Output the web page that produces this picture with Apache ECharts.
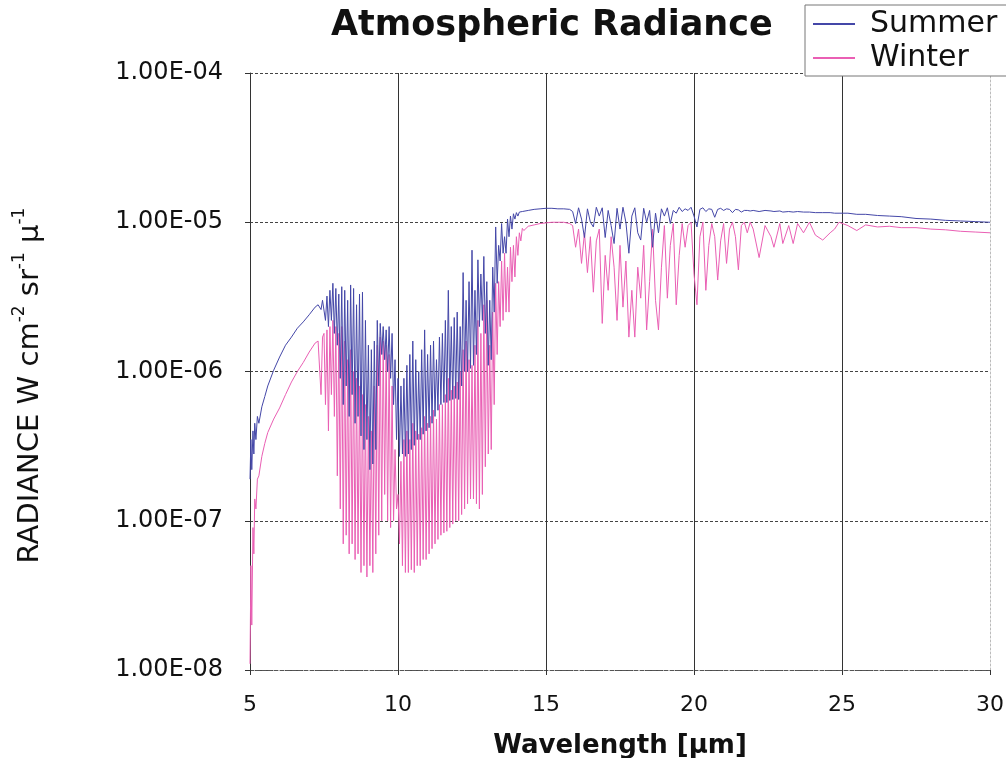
<!DOCTYPE html>
<html>
<head>
<meta charset="utf-8">
<title>Atmospheric Radiance</title>
<script src="https://cdn.jsdelivr.net/npm/echarts@6/dist/echarts.min.js"></script>
<style>
  html, body { margin: 0; padding: 0; background: #fff; }
  #myChart { width: 1006px; height: 758px; }
</style>
</head>
<body>
<div id="myChart"></div>
<script>
// radiance values are in units of 1e-6 W cm-2 sr-1 µ-1
const UNIT = 1e-6

const wavelength = [
  5.0, 5.03, 5.06, 5.1, 5.13, 5.16, 5.2, 5.25, 5.3, 5.4, 5.5, 5.6, 5.8, 6.0, 6.2, 6.4, 6.6, 6.8, 7.0, 7.2, 7.3, 7.4, 7.45,
  7.5, 7.55, 7.6, 7.65, 7.7, 7.75, 7.8, 7.85, 7.9, 7.95,
  8.0, 8.05, 8.1, 8.15, 8.2, 8.25, 8.3, 8.35, 8.4, 8.45, 8.5, 8.55, 8.6, 8.65, 8.7, 8.75, 8.8, 8.85, 8.9, 8.95,
  9.0, 9.05, 9.1, 9.15, 9.2, 9.25, 9.3, 9.35, 9.4, 9.45, 9.5, 9.55, 9.6, 9.65, 9.7, 9.75, 9.8, 9.85, 9.9, 9.95,
  10.0, 10.05, 10.1, 10.15, 10.2, 10.25, 10.3, 10.35, 10.4, 10.45, 10.5, 10.55, 10.6, 10.65, 10.7, 10.75, 10.8, 10.85, 10.9, 10.95,
  11.0, 11.05, 11.1, 11.15, 11.2, 11.25, 11.3, 11.35, 11.4, 11.45, 11.5, 11.55, 11.6, 11.65, 11.7, 11.75, 11.8, 11.85, 11.9, 11.95,
  12.0, 12.05, 12.1, 12.15, 12.2, 12.25, 12.3, 12.35, 12.4, 12.45, 12.5, 12.55, 12.6, 12.65, 12.7, 12.75, 12.8, 12.85, 12.9, 12.95,
  13.0, 13.05, 13.1, 13.15, 13.2, 13.25, 13.3, 13.35, 13.4, 13.45, 13.5, 13.55, 13.6, 13.65, 13.7, 13.75, 13.8, 13.85, 13.9, 13.95,
  14.0, 14.05, 14.1, 14.15, 14.2, 14.25,
  14.4, 14.6, 14.8, 15.0, 15.2, 15.4, 15.6, 15.8, 15.9,
  16.0, 16.1, 16.2, 16.3, 16.4, 16.5, 16.6, 16.7, 16.8, 16.9,
  17.0, 17.1, 17.2, 17.3, 17.4, 17.5, 17.6, 17.7, 17.8, 17.9,
  18.0, 18.1, 18.2, 18.3, 18.4, 18.5, 18.6, 18.7, 18.8, 18.9,
  19.0, 19.1, 19.2, 19.3, 19.4, 19.5, 19.6, 19.7, 19.8, 19.9,
  20.0, 20.1, 20.2, 20.3, 20.4, 20.5, 20.6, 20.7, 20.8, 20.9,
  21.0, 21.1, 21.2, 21.3, 21.4, 21.5, 21.6, 21.7, 21.8, 21.9,
  22.0, 22.2, 22.4, 22.6, 22.7, 22.9, 23.0, 23.2, 23.35, 23.5, 23.7, 23.9, 24.1, 24.35, 24.6, 24.75, 24.9,
  25.2, 25.5, 25.8, 26.2, 26.6, 27, 27.5, 28, 28.5, 29, 29.5, 30
]

const summer = [
  0.19, 0.35, 0.22, 0.4, 0.28, 0.45, 0.35, 0.5, 0.45, 0.58, 0.68, 0.8, 1.02, 1.25, 1.5, 1.7, 1.95, 2.15, 2.4, 2.7, 2.8, 2.6, 3.0,
  3.0, 2.2, 3.2, 2.0, 3.5, 2.2, 3.9, 1.8, 3.6, 1.5,
  3.3, 0.9, 3.7, 0.6, 3.5, 0.8, 3.0, 0.5, 3.8, 0.7, 3.6, 0.45, 2.8, 0.5, 3.3, 0.37, 3.4, 0.3, 2.2, 0.35,
  1.5, 0.22, 1.4, 0.24, 1.6, 0.3, 2.2, 0.8, 2.1, 1.3, 2.0, 1.2, 1.9, 1.0, 2.0, 0.9, 1.8, 0.6, 1.2, 0.35,
  0.9, 0.27, 0.8, 0.28, 0.9, 0.27, 1.1, 0.28, 1.3, 0.3, 1.6, 0.32, 1.2, 0.35, 1.0, 0.35, 1.4, 0.38, 1.9, 0.4,
  1.3, 0.42, 1.5, 0.45, 1.6, 0.5, 1.2, 0.55, 1.7, 0.6, 1.8, 0.62, 2.2, 0.62, 3.5, 0.64, 2.0, 0.65, 2.3, 0.66,
  2.5, 0.65, 2.0, 0.8, 4.6, 1.0, 3.0, 1.0, 4.0, 1.05, 6.5, 1.1, 3.5, 1.3, 5.6, 2.0, 4.5, 2.2, 5.9, 1.8,
  4.0, 1.1, 3.0, 1.2, 5.0, 2.5, 9.3, 3.9, 7.0, 5.5, 9.8, 6.2, 8.0, 6.2, 10.5, 8.0, 11.0, 9.0, 11.4, 10.5,
  11.6, 11.0, 11.7, 11.5, 11.8, 11.8,
  12.0, 12.2, 12.3, 12.4, 12.4, 12.3, 12.3, 12.2, 11.8,
  9.8, 12.5, 10.5, 7.9, 12.3, 10.0, 9.3, 12.6, 11.0, 12.5,
  7.9, 12.0, 9.5, 7.2, 12.4, 9.0, 12.6, 10.0, 6.2, 11.0,
  12.5, 8.5, 7.6, 12.4, 10.0, 12.0, 6.8, 11.5, 8.5, 12.3,
  11.0, 12.5, 9.8, 12.0, 11.5, 12.6, 11.8, 12.3, 12.0, 12.6,
  11.0, 9.3, 12.2, 12.5, 11.8, 12.3, 12.2, 10.8, 12.2, 12.4,
  12.0, 12.3, 12.2, 11.6, 12.2, 12.1, 11.7, 12.0, 12.0, 11.9,
  12.0, 11.8, 12.0, 11.9, 11.8, 11.9, 11.7, 11.8, 11.7, 11.8, 11.7, 11.7, 11.6, 11.6, 11.6, 11.5, 11.5,
  11.5, 11.3, 11.3, 11.1, 11.0, 10.9, 10.6, 10.5, 10.3, 10.2, 10.1, 10.0
]

const winter = [
  0.011, 0.05, 0.02, 0.09, 0.06, 0.14, 0.12, 0.19, 0.2, 0.27, 0.33, 0.39, 0.48, 0.57, 0.7, 0.85, 1.0, 1.15, 1.35, 1.55, 1.6, 0.7, 1.7,
  1.8, 0.6, 1.9, 0.4, 2.0, 0.7, 2.2, 0.5, 2.0, 0.2,
  1.8, 0.12, 2.0, 0.07, 1.6, 0.08, 1.2, 0.06, 1.4, 0.07, 1.0, 0.055, 0.9, 0.06, 0.8, 0.045, 0.7, 0.05, 0.6, 0.042,
  0.5, 0.05, 0.4, 0.045, 0.8, 0.06, 1.5, 0.08, 1.7, 0.1, 1.6, 0.15, 1.5, 0.1, 1.3, 0.09, 0.8, 0.1, 0.3, 0.12,
  0.15, 0.07, 0.25, 0.05, 0.35, 0.045, 0.4, 0.045, 0.35, 0.047, 0.45, 0.045, 0.4, 0.05, 0.38, 0.05, 0.42, 0.055, 0.5, 0.055,
  0.45, 0.06, 0.5, 0.065, 0.55, 0.07, 0.48, 0.075, 0.6, 0.08, 0.6, 0.083, 0.7, 0.085, 0.9, 0.09, 0.75, 0.095, 0.8, 0.1,
  0.85, 0.1, 1.0, 0.11, 1.4, 0.12, 1.6, 0.13, 1.2, 0.14, 1.1, 0.14, 1.5, 0.13, 2.2, 0.12, 1.8, 0.15, 2.8, 0.23,
  3.0, 0.28, 1.5, 0.3, 2.5, 0.6, 3.9, 1.3, 4.0, 2.0, 5.5, 2.2, 6.2, 2.5, 5.0, 2.5, 6.8, 4.0, 7.0, 4.3,
  8.0, 6.0, 8.5, 7.5, 9.1, 8.8,
  9.4, 9.6, 9.8, 9.9, 10.0, 10.0, 10.0, 9.8, 9.5,
  6.8, 9.0, 5.3, 8.5, 4.6, 8.0, 3.4, 7.5, 9.0, 2.1,
  6.0, 3.5, 8.0, 5.0, 2.2, 7.0, 2.7, 5.5, 1.7, 3.5,
  1.7, 5.0, 3.1, 7.0, 1.9, 4.0, 9.0, 3.0, 1.9, 5.0,
  9.5, 3.1, 7.0, 9.8, 2.8, 6.0, 9.8, 6.8, 9.5, 10.0,
  4.5, 2.8, 8.0, 10.0, 3.5, 7.0, 9.8, 8.0, 4.1, 7.5,
  9.8, 5.3, 9.0, 10.0, 8.0, 4.8, 9.5, 10.0, 8.5, 10.0,
  9.0, 5.8, 9.5, 8.0, 6.8, 9.8, 7.2, 9.5, 7.2, 9.8, 8.5, 10.0, 8.2, 7.6, 8.5, 9.0, 10.0,
  9.5, 8.8, 9.6, 9.3, 9.4, 9.2, 9.2, 9.0, 8.9, 8.7, 8.6, 8.5
]

const yTicks = ['1.00E-08', '1.00E-07', '1.00E-06', '1.00E-05', '1.00E-04']

const FONT = 'DejaVu Sans'

function toPairs (values) {
  return wavelength.map((w, i) => [w, values[i] * UNIT])
}

let option = {
  animation: false,
  backgroundColor: '#fff',
  title: {
    text: 'Atmospheric Radiance',
    left: 326,
    top: 3,
    textStyle: { fontFamily: FONT, fontWeight: 'bold', fontSize: 35, color: '#111' }
  },
  legend: {
    data: ['Summer', 'Winter'],
    orient: 'vertical',
    left: 805,
    top: 5,
    padding: [4, 20, 3, 8],
    itemGap: 4,
    itemWidth: 42,
    itemHeight: 2,
    icon: 'rect',
    backgroundColor: '#fff',
    borderColor: '#777',
    borderWidth: 1,
    borderRadius: 0,
    textStyle: { fontFamily: FONT, fontSize: 30, color: '#111', padding: [0, 0, 0, 10] }
  },
  grid: {
    left: 250,
    right: 16,
    top: 73,
    bottom: 88,
    outerBoundsMode: 'none'
  },
  xAxis: {
    type: 'value',
    min: 5,
    max: 30,
    interval: 5,
    name: 'Wavelength [µm]',
    nameLocation: 'middle',
    nameGap: 63,
    nameTextStyle: { fontFamily: FONT, fontWeight: 'bold', fontSize: 26, color: '#111' },
    axisLine: { show: true, onZero: false, lineStyle: { color: '#555', type: 'dashed', width: 1 } },
    axisTick: { show: true, length: 5, lineStyle: { color: '#333' } },
    axisLabel: { fontFamily: FONT, fontSize: 22, color: '#111', margin: 24 },
    splitLine: { show: true, showMaxLine: false, lineStyle: { color: '#333', width: 1 } }
  },
  yAxis: [
    {
      type: 'log',
      logBase: 10,
      min: 1e-8,
      max: 1e-4,
      name: '{n|RADIANCE W cm}{s|-2}{n| sr}{s|-1}{n| µ}{s|-1}',
      nameLocation: 'middle',
      nameGap: 205,
      nameTextStyle: {
        padding: [0, 28, 0, 0],
        rich: {
          n: { fontFamily: FONT, fontSize: 29, color: '#111', lineHeight: 34, verticalAlign: 'bottom' },
          s: { fontFamily: FONT, fontSize: 17, color: '#111', lineHeight: 34, verticalAlign: 'top' }
        }
      },
      axisLine: { show: true, lineStyle: { color: '#333', width: 1 } },
      axisTick: { show: true, length: 5, lineStyle: { color: '#333' } },
      axisLabel: {
        fontFamily: FONT,
        fontSize: 24,
        color: '#111',
        margin: 27,
        formatter: function (v) {
          let idx = Math.round(Math.log10(v)) + 8
          return yTicks[idx]
        }
      },
      splitLine: { show: true, lineStyle: { color: '#444', width: 1, type: [3, 2] } }
    },
    {
      // light frame line on the right edge
      type: 'log',
      logBase: 10,
      min: 1e-8,
      max: 1e-4,
      position: 'right',
      axisLine: { show: true, lineStyle: { color: '#bbb', width: 1, type: [2, 2] } },
      axisTick: { show: false },
      axisLabel: { show: false },
      splitLine: { show: false }
    }
  ],
  series: [
    {
      name: 'Winter',
      type: 'line',
      showSymbol: false,
      symbol: 'none',
      color: '#ea5fb4',
      lineStyle: { width: 1, color: '#ea5fb4' },
      data: toPairs(winter)
    },
    {
      name: 'Summer',
      type: 'line',
      showSymbol: false,
      symbol: 'none',
      color: '#4447a8',
      lineStyle: { width: 1, color: '#4447a8' },
      data: toPairs(summer)
    }
  ]
}

let myChart = echarts.init(document.getElementById('myChart'))
myChart.setOption(option)
</script>
</body>
</html>
